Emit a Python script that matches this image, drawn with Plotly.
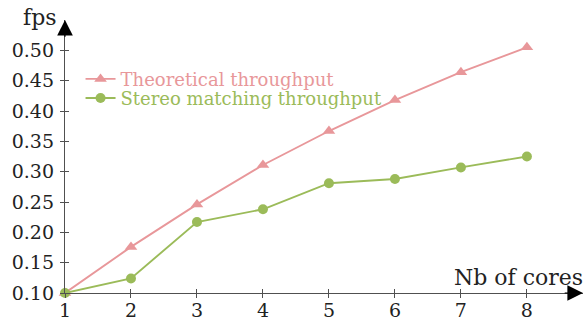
import plotly.graph_objects as go

cores = [1, 2, 3, 4, 5, 6, 7, 8]
theoretical = [0.100, 0.176, 0.246, 0.311, 0.367, 0.418, 0.464, 0.505]
stereo = [0.100, 0.124, 0.217, 0.238, 0.281, 0.288, 0.307, 0.325]
y_ticks = [0.10, 0.15, 0.20, 0.25, 0.30, 0.35, 0.40, 0.45, 0.50]
y_labels = ["0.10", "0.15", "0.20", "0.25", "0.30", "0.35", "0.40", "0.45", "0.50"]

PINK = "#E8979A"
GREEN = "#9BBB59"
AXIS = "#505050"
FONT = "DejaVu Serif"

X_RANGE = [1, 8.85]
Y_RANGE = [0.1, 0.55]

fig = go.Figure()
fig.add_trace(go.Scatter(
    x=cores, y=theoretical, mode="lines+markers",
    name=f'<span style="color:{PINK}">Theoretical throughput</span>',
    line=dict(color=PINK, width=1.9),
    marker=dict(symbol="triangle-up", size=11, color=PINK),
    cliponaxis=False, legend="legend",
))
fig.add_trace(go.Scatter(
    x=cores, y=stereo, mode="lines+markers",
    name=f'<span style="color:{GREEN}">Stereo matching throughput</span>',
    line=dict(color=GREEN, width=1.9),
    marker=dict(symbol="circle", size=10, color=GREEN),
    cliponaxis=False, legend="legend2",
))
# invisible trace to activate overlay axes (for crossing ticks)
fig.add_trace(go.Scatter(x=[cores[0]], y=[y_ticks[0]], xaxis="x2", yaxis="y2",
                         mode="markers", marker=dict(opacity=0), showlegend=False,
                         hoverinfo="skip"))

common_font = dict(family=FONT, size=19, color="#222")
legend_common = dict(xanchor="left", yanchor="top", bgcolor="rgba(0,0,0,0)",
                     font=dict(family=FONT, size=18), itemwidth=30)
fig.update_layout(
    width=584, height=320,
    margin=dict(l=65, r=1, t=20, b=27),
    paper_bgcolor="white", plot_bgcolor="white",
    font=dict(family=FONT, color="#222"),
    showlegend=True,
    legend=dict(x=0.03, y=0.851, **legend_common),
    legend2=dict(x=0.03, y=0.781, **legend_common),
    xaxis=dict(range=X_RANGE, tickvals=cores, ticktext=[str(c) for c in cores],
               showgrid=False, zeroline=False, showline=True, linecolor=AXIS, linewidth=1.3,
               ticks="outside", ticklen=4, tickcolor=AXIS, tickwidth=1,
               tickfont=common_font, automargin=False, ticklabelstandoff=-4),
    yaxis=dict(range=Y_RANGE, tickvals=y_ticks, ticktext=y_labels,
               showgrid=False, zeroline=False, showline=True, linecolor=AXIS, linewidth=1.3,
               ticks="outside", ticklen=4, tickcolor=AXIS, tickwidth=1,
               tickfont=common_font, automargin=False, ticklabelstandoff=2),
    xaxis2=dict(range=X_RANGE, overlaying="x", tickvals=cores, showticklabels=False,
                showgrid=False, zeroline=False, ticks="inside", ticklen=4,
                tickcolor=AXIS, tickwidth=1, automargin=False),
    yaxis2=dict(range=Y_RANGE, overlaying="y", tickvals=y_ticks, showticklabels=False,
                showgrid=False, zeroline=False, ticks="inside", ticklen=4,
                tickcolor=AXIS, tickwidth=1, automargin=False),
)

# axis arrowheads
fig.add_annotation(x=X_RANGE[0], y=Y_RANGE[1], ax=X_RANGE[0], ay=Y_RANGE[1] - 0.03,
                   xref="x", yref="y", axref="x", ayref="y", text="",
                   showarrow=True, arrowhead=2, arrowsize=2.6, arrowwidth=1.2,
                   arrowcolor="black")
fig.add_annotation(x=X_RANGE[1], y=Y_RANGE[0], ax=X_RANGE[1] - 0.3, ay=Y_RANGE[0],
                   xref="x", yref="y", axref="x", ayref="y", text="",
                   showarrow=True, arrowhead=2, arrowsize=2.6, arrowwidth=1.2,
                   arrowcolor="black")
# axis titles
fig.add_annotation(x=0, y=1, xref="paper", yref="paper", text="fps",
                   showarrow=False, xanchor="right", yanchor="bottom",
                   xshift=-6, yshift=-12, font=dict(family=FONT, size=22, color="#222"))
fig.add_annotation(x=1, y=0, xref="paper", yref="paper", text="Nb of cores",
                   showarrow=False, xanchor="right", yanchor="bottom",
                   xshift=2, yshift=1, font=dict(family=FONT, size=22, color="#222"))

fig.write_html("out.html", config={"displayModeBar": False},
               post_script="document.body.style.margin='0';")
